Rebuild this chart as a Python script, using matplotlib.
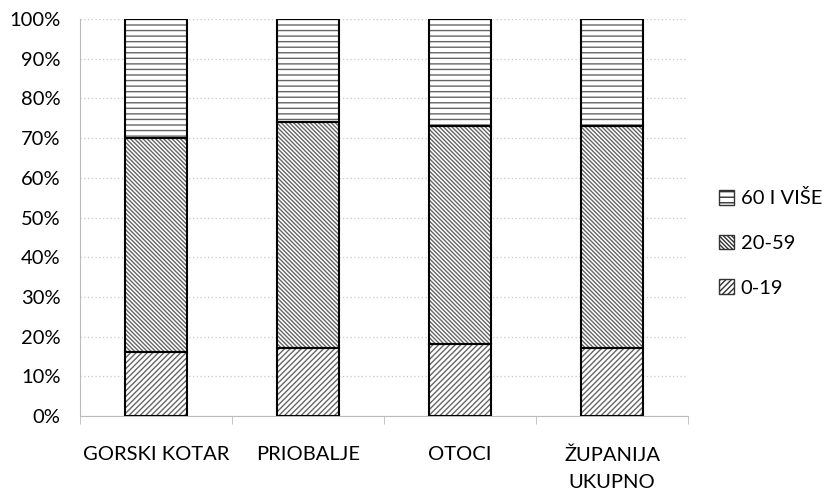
import matplotlib
matplotlib.use("Agg")
import matplotlib.pyplot as plt
import numpy as np
from matplotlib.patches import Patch

plt.rcParams["font.family"] = ["Lato", "DejaVu Sans"]
plt.rcParams["hatch.linewidth"] = 1.0

categories = ["GORSKI KOTAR", "PRIOBALJE", "OTOCI", "ŽUPANIJA\nUKUPNO"]
age_0_19 = [16, 17, 18, 17]
age_20_59 = [54, 57, 55, 56]
age_60_plus = [30, 26, 27, 27]
series_labels = ["0-19", "20-59", "60 I VIŠE"]
y_ticks = [0, 10, 20, 30, 40, 50, 60, 70, 80, 90, 100]

fig = plt.figure(figsize=(8.26, 4.91), dpi=100)
ax = fig.add_axes([0.097, 0.153, 0.736, 0.808])

x = np.arange(len(categories))
width = 0.41
series = [age_0_19, age_20_59, age_60_plus]
hatches = ["//////", "\\\\\\\\\\\\\\\\", "---"]
bottom = np.zeros(len(categories))
handles = []
for vals, hatch, label in zip(series, hatches, series_labels):
    ax.bar(x, vals, width, bottom=bottom, facecolor="white", edgecolor="#666666",
           hatch=hatch, linewidth=0, zorder=2)
    ax.bar(x, vals, width, bottom=bottom, facecolor="none", edgecolor="black",
           linewidth=1.5, zorder=3)
    bottom += np.array(vals)
    handles.append(Patch(facecolor="white", edgecolor="#333333", hatch=hatch, label=label))

ax.set_xlim(-0.5, len(categories) - 0.5)
ax.set_ylim(0, 100)
ax.set_yticks(y_ticks)
ax.set_yticklabels([f"{t}%" for t in y_ticks], fontsize=14.5)
ax.yaxis.grid(True, linestyle=(0, (1, 2)), color="#c8c8c8", linewidth=0.9, zorder=0)
ax.set_axisbelow(True)
ax.tick_params(axis="y", length=0, pad=14)

ax.set_xticks(x)
ax.set_xticklabels(categories, fontsize=14.5, linespacing=1.75, va="top")
ax.tick_params(axis="x", which="major", length=0, pad=22)
ax.set_xticks(np.arange(-0.5, len(categories)), minor=True)
ax.tick_params(axis="x", which="minor", length=6, color="#bbbbbb", direction="out")

for s in ["top", "right"]:
    ax.spines[s].set_visible(False)
ax.spines["left"].set_color("#bbbbbb")
ax.spines["bottom"].set_color("#bbbbbb")

fig.legend(handles=handles[::-1], loc="center left", bbox_to_anchor=(0.848, 0.505),
           frameon=False, fontsize=14.5, handlelength=0.75, handleheight=0.75,
           labelspacing=1.35, handletextpad=0.35)

fig.savefig("out.png", dpi=100)
